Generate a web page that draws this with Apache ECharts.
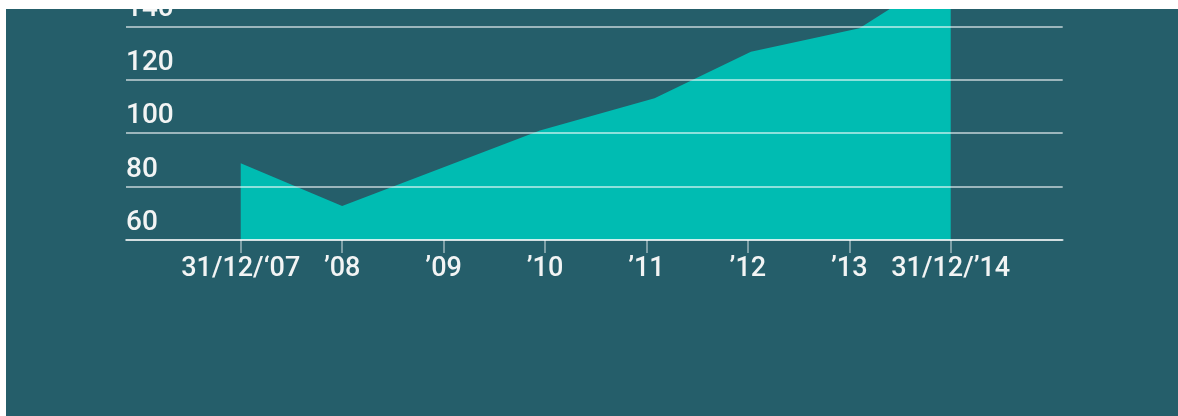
<!DOCTYPE html>
<html>
<head>
<meta charset="utf-8">
<script src="https://cdn.jsdelivr.net/npm/echarts@6/dist/echarts.min.js"></script>
<style>
  html, body { margin: 0; padding: 0; background: #ffffff; width: 1178px; height: 416px; overflow: hidden; }
  #wrap { position: absolute; left: 6px; top: 9px; width: 1172px; height: 407px; overflow: hidden; background: #255e6a; }
  #chart { position: absolute; left: 0; top: -110px; width: 1172px; height: 517px; }
</style>
</head>
<body>
<div id="wrap"><div id="chart"></div></div>
<script>
// Tick positions (year index, 0 = 31/12/'07) and their labels
const tickPositions = [0, 1, 2, 3, 4, 5, 6, 7];
const tickLabels = ["31/12/\u201807", "\u201908", "\u201909", "\u201910", "\u201911", "\u201912", "\u201913", "31/12/\u201914"];
// Series: x positions (year index) and values
const seriesX = [0, 1, 2.95, 4.08, 5.03, 6.1, 7];
const seriesY = [88.7, 72.7, 101, 113.1, 130.5, 139.3, 161];
// Y axis ticks
const yMin = 60, yMax = 180, yStep = 20;

const FONT = 'Roboto, "Liberation Sans", sans-serif';
const chart = echarts.init(document.getElementById('chart'), null, { renderer: 'canvas' });
chart.setOption({
  backgroundColor: 'transparent',
  animation: false,
  grid: { left: 120, width: 936.7, top: 20.4, height: 320.6, containLabel: false, outerBoundsMode: 'none' },
  xAxis: {
    type: 'value',
    min: -1.131,
    max: 8.104,
    z: 3,
    splitLine: { show: false },
    axisLine: { show: true, onZero: false, lineStyle: { color: 'rgba(255,255,255,0.55)', width: 2 } },
    axisTick: { show: true, customValues: tickPositions, length: 13, lineStyle: { color: 'rgba(255,255,255,0.55)', width: 1.5 } },
    axisLabel: {
      show: true,
      customValues: tickPositions,
      formatter: function (v) { const i = tickPositions.indexOf(Math.round(v)); return i >= 0 ? tickLabels[i] : ''; },
      color: '#f2f4f4',
      fontFamily: FONT,
      fontWeight: 500,
      fontSize: 27,
      margin: 16
    }
  },
  yAxis: {
    type: 'value',
    min: yMin,
    max: yMax,
    interval: yStep,
    z: 3,
    axisLine: { show: false },
    axisTick: { show: false },
    splitLine: { show: true, lineStyle: { color: 'rgba(255,255,255,0.55)', width: 2 } },
    axisLabel: {
      inside: true,
      margin: 0,
      align: 'left',
      verticalAlign: 'bottom',
      padding: [0, 0, 3, 0],
      color: '#f2f4f4',
      fontFamily: FONT,
      fontWeight: 500,
      fontSize: 28,
      showMinLabel: true
    }
  },
  series: [{
    type: 'line',
    data: seriesX.map((x, i) => [x, seriesY[i]]),
    symbol: 'none',
    lineStyle: { width: 0 },
    areaStyle: { color: '#00bcb2', opacity: 1 },
    z: 2,
    silent: true
  }]
});
</script>
</body>
</html>
